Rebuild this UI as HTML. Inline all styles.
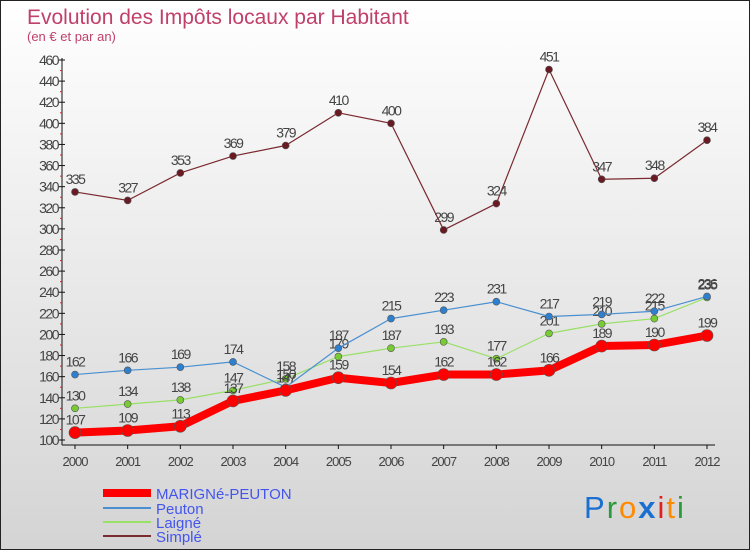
<!DOCTYPE html>
<html><head><meta charset="utf-8">
<style>
body{margin:0;width:750px;height:550px;overflow:hidden;font-family:"Liberation Sans",sans-serif;}
#wrap{position:absolute;left:0;top:0;width:748px;height:548px;border:1px solid #222;background:linear-gradient(#ffffff,#d4d4d4);}
</style></head><body>
<div id="wrap">
<svg id="chart" width="748" height="548">
<text x="26" y="23" font-size="21" fill="#c0406a" font-weight="300">Evolution des Impôts locaux par Habitant</text>
<text x="26" y="40" font-size="13" fill="#c0406a">(en € et par an)</text>
<g id="axes"></g><g id="series"></g>
<g>
<line x1="102" y1="492" x2="150" y2="492" stroke="#ff0000" stroke-width="8"/>
<text x="155" y="498" font-size="15" fill="#4455ee">MARIGNé-PEUTON</text>
<line x1="102" y1="507" x2="150" y2="507" stroke="#4a90d0" stroke-width="2"/>
<text x="155" y="513" font-size="15" fill="#4455ee">Peuton</text>
<line x1="102" y1="521" x2="150" y2="521" stroke="#99e066" stroke-width="2"/>
<text x="155" y="527" font-size="15" fill="#4455ee">Laigné</text>
<line x1="102" y1="535" x2="150" y2="535" stroke="#7a2a30" stroke-width="2"/>
<text x="155" y="541" font-size="15" fill="#4455ee">Simplé</text>
</g>
<g font-size="31" font-family="Liberation Sans,sans-serif" letter-spacing="2">
<text x="583" y="517"><tspan fill="#1a6fd0">P</tspan><tspan fill="#2a9a3a">r</tspan><tspan fill="#ff8a00">o</tspan><tspan fill="#1a6fd0" font-weight="bold">x</tspan><tspan fill="#e02020">i</tspan><tspan fill="#ff8a00">t</tspan><tspan fill="#2a9a3a">i</tspan></text>
</g>
</svg></div>
<script>
const years=["2000","2001","2002","2003","2004","2005","2006","2007","2008","2009","2010","2011","2012"];
const marigne=[107,109,113,137,147,159,154,162,162,166,189,190,199];
const peuton=[162,166,169,174,150,187,215,223,231,217,219,222,236];
const laigne=[130,134,138,147,158,179,187,193,177,201,210,215,235];
const simple=[335,327,353,369,379,410,400,299,324,451,347,348,384];
const yTicks=[100,120,140,160,180,200,220,240,260,280,300,320,340,360,380,400,420,440,460];
const NS="http://www.w3.org/2000/svg";
const X0=74,X1=706,Y0=439,Y1=59,VMIN=100,VMAX=460;
const xs=i=>X0+(X1-X0)*i/(years.length-1);
const ys=v=>Y0-(v-VMIN)*(Y0-Y1)/(VMAX-VMIN);
function mk(tag,attrs,parent){const e=document.createElementNS(NS,tag);for(const k in attrs)e.setAttribute(k,attrs[k]);parent.appendChild(e);return e;}
const ax=document.getElementById('axes');
let l=mk('line',{x1:61,y1:57,x2:61,y2:444,stroke:'#111'},ax);


l=mk('line',{x1:61,y1:444,x2:714,y2:444,stroke:'#111'},ax);


yTicks.forEach((v,i)=>{
  const y=ys(v);
  mk('line',{x1:58,y1:y,x2:64,y2:y,stroke:'#111'},ax);
  if(i<yTicks.length-1)mk('line',{x1:59,y1:ys(v+10),x2:61,y2:ys(v+10),stroke:'#e02020'},ax);
  const t=mk('text',{x:57,y:y+5,'font-size':14,fill:'#444','text-anchor':'end','letter-spacing':'-1.5'},ax);
  t.textContent=v;
  
  
});
years.forEach((yr,i)=>{
  const x=xs(i);
  mk('line',{x1:x,y1:444,x2:x,y2:448,stroke:'#111'},ax);
  const t=mk('text',{x:x,y:465,'font-size':13,fill:'#444','text-anchor':'middle','letter-spacing':'-1'},ax);
  t.textContent=yr;
  
  
});
const sg=document.getElementById('series');
function draw(vals,name,color,w,r,dot){
  const g=mk('g',{},sg);
  
  
  const p=mk('polyline',{points:vals.map((v,i)=>xs(i)+','+ys(v)).join(' '),fill:'none',stroke:color,'stroke-width':w,'stroke-linejoin':'round'},g);
  
  
  vals.forEach((v,i)=>{
    const c=mk('circle',{cx:xs(i),cy:ys(v),r:r,fill:dot,stroke:'#555','stroke-width':0.6},g);
    
    
    const t=mk('text',{x:xs(i),y:ys(v)-8,'font-size':14,fill:'#444','text-anchor':'middle','letter-spacing':'-1.5'},g);
    t.textContent=v;
    
    
  });
}
draw(simple,'simple','#7a2a30',1.2,3.5,'#6a1a22');
draw(laigne,'laigne','#99e066',1.2,3.5,'#77cc33');
draw(peuton,'peuton','#4a90d0',1.2,3.5,'#2f7fcf');
draw(marigne,'marigne','#ff0000',8,6,'#ff0000');
</script>
</body></html>
